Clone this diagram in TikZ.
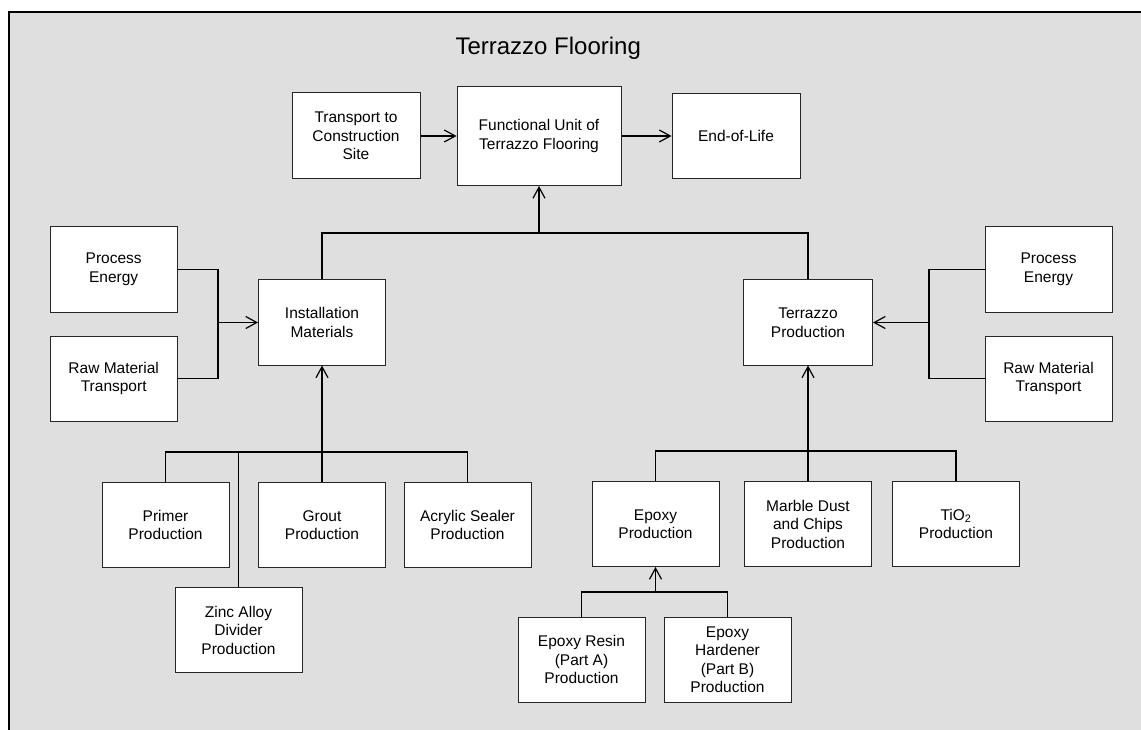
\documentclass[tikz,border=0pt]{standalone}
\usepackage{fontspec}
\setmainfont{Liberation Sans}
\usetikzlibrary{arrows.meta,positioning}
\definecolor{panelgray}{RGB}{223,223,223}

\begin{document}
\begin{tikzpicture}[x=1pt,y=-1pt,>={Straight Barb[length=11pt,width=12pt]},
  font=\fontsize{15.5}{18.5}\selectfont]

  \tikzstyle{stage}=[rectangle,draw=black!85,fill=white,line width=1pt,
                     minimum width=127pt,minimum height=85pt,align=center,inner sep=2pt]
  \tikzstyle{unit}=[stage,minimum width=164pt,minimum height=99pt]
  \tikzstyle{link}=[line width=1.2pt]

  \useasboundingbox (0,0) rectangle (1141,730);
  \fill[panelgray] (9,12) rectangle (1141,730);
  \draw[line width=1.5pt] (9,730) -- (9,12) -- (1141,12);

  \node [anchor=base west] (title) at (452,55) {\fontsize{24}{28}\selectfont Terrazzo Flooring};

  % top row
  \node [unit]  (fu)    at (539,136)   {Functional Unit of\\Terrazzo Flooring};
  \node [stage,minimum width=128pt,minimum height=86pt] (trans) at (356,136) {Transport to\\Construction\\Site};
  \node [stage,minimum width=128pt] (eol) [right=50pt of fu] {End-of-Life};

  % installation side
  \node [stage] (inst)  at (322,322.5) {Installation\\Materials};
  \node [stage] (peL)   at (113.7,269.5) {Process\\Energy};
  \node [stage] (rmL)   [below=23pt of peL] {Raw Material\\Transport};
  \node [stage] (primer) at (165.5,525) {Primer\\Production};
  \node [stage] (grout)  at (322,525)   {Grout\\Production};
  \node [stage] (acryl)  at (467.5,525) {Acrylic Sealer\\Production};
  \node [stage] (zinc)   at (238.5,630) {Zinc Alloy\\Divider\\Production};

  % terrazzo side
  \node [stage,minimum width=129pt] (terr) at (808,322.5) {Terrazzo\\Production};
  \node [stage] (peR)   at (1048.5,269.5) {Process\\Energy};
  \node [stage] (rmR)   [below=23pt of peR] {Raw Material\\Transport};
  \node [stage] (epoxy)  at (655.5,524) {Epoxy\\Production};
  \node [stage] (marble) at (808,524)   {Marble Dust\\and Chips\\Production};
  \node [stage] (tio)    at (956,524)   {TiO\textsubscript{2}\\Production};
  \node [stage] (resin)  at (581.5,659.5) {Epoxy Resin\\(Part A)\\Production};
  \node [stage] (hard)   at (727.5,659.5) {Epoxy\\Hardener\\(Part B)\\Production};

  % junction points
  \coordinate (topbus) at (539,233);
  \coordinate (lbr)    at (218,322.5);
  \coordinate (rbr)    at (929,322.5);
  \coordinate (lbus)   at (322,452);
  \coordinate (rbus)   at (808,451);
  \coordinate (ebus)   at (655.5,592);

  \path[link]
  (trans) edge [->] (fu)
  (fu)    edge [->] (eol);

  \draw[link] (inst.north) |- (topbus) -| (terr.north);
  \draw[link,->] (topbus) -- (fu.south);

  \draw[link] (peL.east) -| (lbr) |- (rmL.east);
  \draw[link,->] (lbr) -- (inst.west);
  \draw[link] (peR.west) -| (rbr) |- (rmR.west);
  \draw[link,->] (rbr) -- (terr.east);

  \draw[link] (primer.north) |- (lbus) -| (acryl.north);
  \draw[link] (zinc.north) -- (zinc.north |- lbus);
  \draw[link] (grout.north) -- (lbus);
  \draw[link,->] (lbus) -- (inst.south);

  \draw[link] (epoxy.north) |- (rbus) -| (tio.north);
  \draw[link] (marble.north) -- (rbus);
  \draw[link,->] (rbus) -- (terr.south);

  \draw[link] (resin.north) |- (ebus) -| (hard.north);
  \draw[link,->] (ebus) -- (epoxy.south);

\end{tikzpicture}
\end{document}
